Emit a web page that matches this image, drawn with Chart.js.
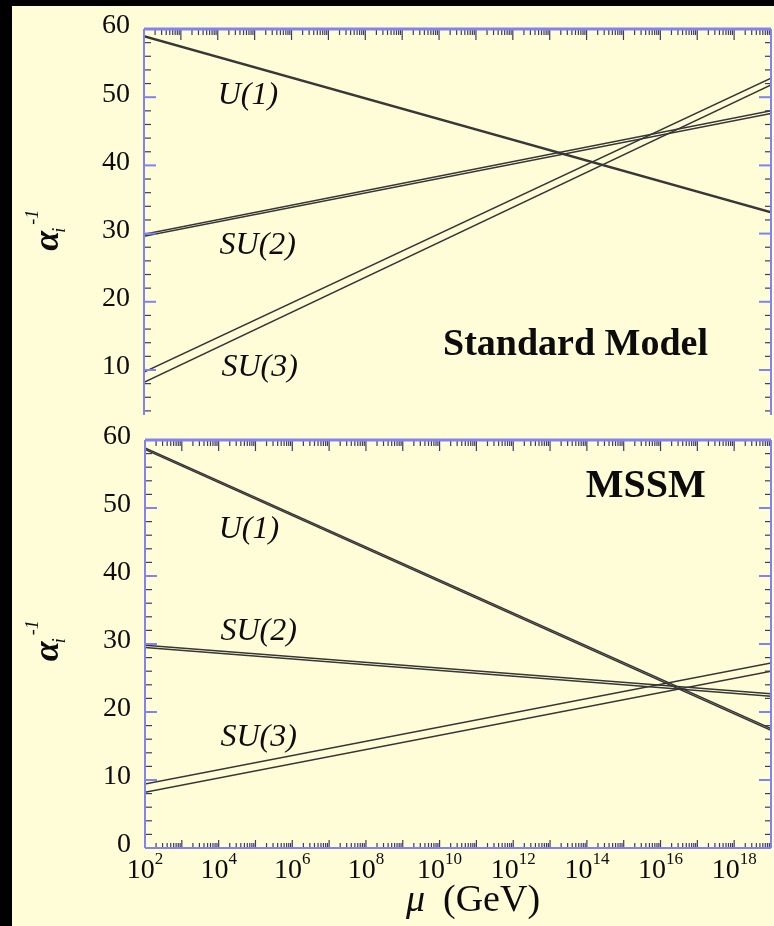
<!DOCTYPE html>
<html>
<head>
<meta charset="utf-8">
<script src="https://cdn.jsdelivr.net/npm/chart.js@4"></script>
<style>
  html, body { margin: 0; padding: 0; background: #000; width: 774px; height: 926px; overflow: hidden; }
  #paper { position: absolute; left: 12px; top: 6px; width: 762px; height: 920px; background: #fffdd8; }
  canvas { position: absolute; left: 0; }
  #chartTop { top: 0; }
  #chartBot { top: 420px; }
</style>
</head>
<body>
<div id="paper"></div>
<canvas id="chartTop" width="774" height="420"></canvas>
<canvas id="chartBot" width="774" height="506"></canvas>
<script>
// log10(mu / GeV) at both ends of the plot
const muExp = [2, 19];

// Standard Model, inverse couplings (two edges of each band)
const smU1a = [59.0, 33.2];
const smU1b = [58.85, 33.05];
const smSU2a = [29.9, 48.0];
const smSU2b = [29.6, 47.6];
const smSU3a = [9.7, 52.8];
const smSU3b = [8.2, 51.8];

// MSSM
const msU1a = [58.85, 17.55];
const msU1b = [58.6, 17.3];
const msSU2a = [29.8, 22.7];
const msSU2b = [29.5, 22.3];
const msSU3a = [9.4, 27.2];
const msSU3b = [8.2, 26.0];

// tick labels
const yTickVals = [0, 10, 20, 30, 40, 50, 60];
const xTickExps = [2, 4, 6, 8, 10, 12, 14, 16, 18];

const AXIS = '#8282f2';
const TICK = '#3c3c62';
const LINE = '#363636';
const SERIF = '"Liberation Serif", "DejaVu Serif", serif';

const toPoints = vals => vals.map((v, i) => ({ x: Math.pow(10, muExp[i]), y: v }));

const seg = (ctx, x1, y1, x2, y2) => {
  ctx.beginPath(); ctx.moveTo(x1, y1); ctx.lineTo(x2, y2); ctx.stroke();
};

const framePlugin = {
  id: 'frame',
  afterDraw(chart, args, o) {
    const { ctx, chartArea: a, scales: { x, y } } = chart;
    ctx.save();

    // x ticks (log decades + minor)
    ctx.strokeStyle = TICK;
    ctx.lineWidth = 1.2;
    for (let d = 2; d < 19; d++) {
      for (let k = 1; k < 10; k++) {
        const px = x.getPixelForValue(k * Math.pow(10, d));
        if (px > a.right) continue;
        seg(ctx, px, a.top, px, a.top + (k === 1 ? 11 : 6));
        if (o.bottomAxis) seg(ctx, px, a.bottom, px, a.bottom - (k === 1 ? 8 : 5));
      }
    }

    // y ticks every 2 units
    for (let v = Math.ceil(y.min / 2) * 2; v <= y.max; v += 2) {
      const py = y.getPixelForValue(v);
      const major = v % 10 === 0;
      ctx.strokeStyle = major ? AXIS : TICK;
      ctx.lineWidth = major ? 2 : 1.2;
      seg(ctx, a.left, py, a.left + (major ? 12 : 7), py);
      seg(ctx, a.right, py, a.right - (major ? 12 : 6), py);
    }

    // frame lines
    ctx.strokeStyle = AXIS;
    ctx.lineWidth = 2;
    seg(ctx, a.left, a.top, a.left, a.bottom);
    seg(ctx, a.right, a.top, a.right, a.bottom);
    ctx.lineWidth = 3;
    seg(ctx, a.left, a.top, a.right, a.top);
    if (o.bottomAxis) { ctx.lineWidth = 2; seg(ctx, a.left, a.bottom, a.right, a.bottom); }

    // y tick labels
    ctx.fillStyle = '#0c0c0c';
    ctx.font = '28px ' + SERIF;
    ctx.textAlign = 'right';
    ctx.textBaseline = 'middle';
    yTickVals.forEach(v => {
      if (v < y.min - 0.01) return;
      ctx.fillText(String(v), a.left - 14, y.getPixelForValue(v) - 3);
    });

    // x tick labels with superscripts
    if (o.xLabels) {
      ctx.textAlign = 'left';
      ctx.textBaseline = 'alphabetic';
      xTickExps.forEach(e => {
        const px = x.getPixelForValue(Math.pow(10, e));
        ctx.font = '28px ' + SERIF;
        const wb = ctx.measureText('10').width;
        ctx.font = '17px ' + SERIF;
        const we = ctx.measureText(String(e)).width;
        const left = px - (wb + we) / 2;
        ctx.font = '28px ' + SERIF;
        ctx.fillText('10', left, a.bottom + 30);
        ctx.font = '17px ' + SERIF;
        ctx.fillText(String(e), left + wb, a.bottom + 16);
      });
      // axis title
      ctx.font = 'italic 38px ' + SERIF;
      const wm = ctx.measureText('\u03bc').width;
      ctx.font = '38px ' + SERIF;
      const wg = ctx.measureText('(GeV)').width;
      const start = 473 - (wm + 18 + wg) / 2;
      ctx.font = 'italic 38px ' + SERIF;
      ctx.fillText('\u03bc', start, a.bottom + 63);
      ctx.font = '38px ' + SERIF;
      ctx.fillText('(GeV)', start + wm + 18, a.bottom + 63);
    }

    // curve labels
    ctx.textBaseline = 'middle';
    o.labels.forEach(l => {
      ctx.font = l.font + ' ' + SERIF;
      ctx.textAlign = l.align;
      ctx.fillText(l.text, x.getPixelForValue(Math.pow(10, l.at[0])), y.getPixelForValue(l.at[1]));
    });

    // y title: alpha_i^-1, rotated
    ctx.save();
    ctx.translate(58, y.getPixelForValue(o.titleAt) + 24);
    ctx.rotate(-Math.PI / 2);
    ctx.textAlign = 'left';
    ctx.textBaseline = 'alphabetic';
    ctx.font = 'italic bold 36px ' + SERIF;
    ctx.fillText('\u03b1', 0, 0);
    const wa = ctx.measureText('\u03b1').width;
    ctx.font = 'italic 18px ' + SERIF;
    ctx.fillText('i', wa - 2, 7);
    ctx.fillText('-1', wa + 6, -20);
    ctx.restore();

    ctx.restore();
  }
};

function band(data) {
  return { data: toPoints(data), borderColor: LINE, borderWidth: 1.5, pointRadius: 0, tension: 0, fill: false };
}

function panel(id, sets, yMin, padding, opts) {
  return new Chart(document.getElementById(id), {
    type: 'line',
    data: { datasets: sets.map(band) },
    options: {
      responsive: false,
      animation: false,
      events: [],
      layout: { padding: padding },
      plugins: { legend: { display: false }, tooltip: { enabled: false }, frame: opts },
      scales: {
        x: { type: 'logarithmic', min: 1e2, max: 1e19, display: false },
        y: { type: 'linear', min: yMin, max: 60, display: false }
      }
    },
    plugins: [framePlugin]
  });
}

panel('chartTop', [smU1a, smU1b, smSU2a, smSU2b, smSU3a, smSU3b], 3.4,
  { left: 144, right: 3, top: 29, bottom: 5 },
  {
    bottomAxis: false, xLabels: false, titleAt: 31,
    labels: [
      { text: 'U(1)', at: [4.0, 50.2], font: 'italic 32px', align: 'left' },
      { text: 'SU(2)', at: [4.05, 28.3], font: 'italic 32px', align: 'left' },
      { text: 'SU(3)', at: [4.1, 10.4], font: 'italic 32px', align: 'left' },
      { text: 'Standard Model', at: [13.7, 13.7], font: 'bold 38px', align: 'center' }
    ]
  });

panel('chartBot', [msU1a, msU1b, msSU2a, msSU2b, msSU3a, msSU3b], 0,
  { left: 145, right: 3, top: 20, bottom: 78 },
  {
    bottomAxis: true, xLabels: true, titleAt: 31,
    labels: [
      { text: 'U(1)', at: [4.0, 46.8], font: 'italic 32px', align: 'left' },
      { text: 'SU(2)', at: [4.05, 31.8], font: 'italic 32px', align: 'left' },
      { text: 'SU(3)', at: [4.05, 16.2], font: 'italic 32px', align: 'left' },
      { text: 'MSSM', at: [15.6, 53.2], font: 'bold 40px', align: 'center' }
    ]
  });
</script>
</body>
</html>
